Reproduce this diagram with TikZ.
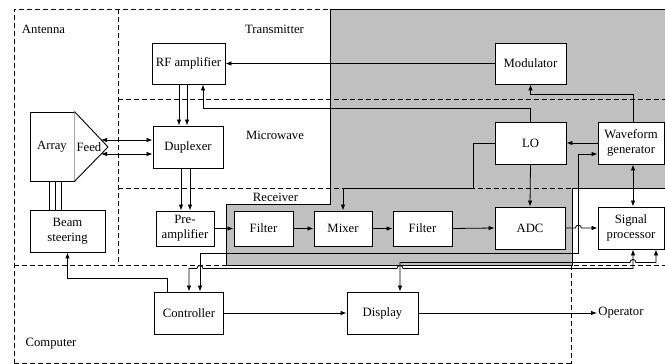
\documentclass[tikz,border=0pt]{standalone}
\usepackage{fontspec}
\setmainfont{Liberation Serif}
\usetikzlibrary{arrows.meta}

\definecolor{rxgray}{RGB}{192,192,192}

\begin{document}
\begin{tikzpicture}[
      x=1pt, y=-1pt,%
      line width=.8pt,%
      font=\fontsize{12.7}{15}\selectfont,%
      block/.style={draw, fill=white, line width=.9pt, minimum width=71pt, minimum height=42pt, inner sep=1pt, align=center},%
      small block/.style={block, minimum width=58pt, minimum height=35pt},%
      zone/.style={dash pattern=on 5pt off 3pt},%
      zonetext/.style={inner sep=0pt},%
      flow/.style={-{Latex[length=6pt,width=4.5pt]}},%
      twoway/.style={{Latex[length=6pt,width=4.5pt]}-{Latex[length=6pt,width=4.5pt]}}%
    ]
    \useasboundingbox (0,0) rectangle (665,364);

    %% Shaded digital part
    \draw[fill=rxgray] (330,9) -- (665,9) -- (665,188) -- (572,188) -- (572,265)
                    -- (226,265) -- (226,204) -- (330,204) -- cycle;

    %% Dashed subsystem borders
    \draw[zone] (14,364) -- (14,9) -- (330,9);
    \draw[zone] (118,9) -- (118,265);
    \draw[zone] (118,99) -- (665,99);
    \draw[zone] (118,188) -- (665,188);
    \draw[zone] (14,265) -- (665,265);
    \draw[zone] (571,265) -- (571,364);
    \draw[zone] (14,363) -- (571,363);

    \node[zonetext] (antennatxt) at (43.5,29) {Antenna};
    \node[zonetext] (transtxt) at (274.5,29) {Transmitter};
    \node[zonetext] (microtxt) at (275,135) {Microwave};
    \node[zonetext] (rxtxt) at (275.5,197) {Receiver};
    \node[zonetext] (comptxt) at (51,344) {Computer};

    %% Blocks
    \node[block, minimum width=73pt, minimum height=41pt] (rfamp) at (188.5,63.5) {RF amplifier};
    \node[block, minimum height=41pt] (modulator) at (530.5,63.5) {Modulator};
    \node[block, minimum width=70pt] (duplexer) at (188,147) {Duplexer};
    \node[block, minimum width=44pt, minimum height=69pt] (array) at (52,146.5) {Array};
    \coordinate (feedtip) at (108,147);
    \draw[line width=.9pt, fill=white] (array.north east) -- (feedtip) -- (array.south east);
    \node (feed) at (89,147) {Feed};
    \coordinate (feedup) at (101,140);
    \coordinate (feeddn) at (101,154);
    \node[block, minimum width=75pt] (beam) at (67.5,231) {Beam\\steering};
    \node[small block] (preamp) at (185,228.5) {Pre-\\amplifier};
    \node[small block, minimum width=59pt] (filtera) at (263.5,228.5) {Filter};
    \node[small block] (mixer) at (343,228.5) {Mixer};
    \node[small block, minimum width=59pt] (filterb) at (422.5,228.5) {Filter};
    \node[block, minimum width=70pt] (adc) at (530,228) {ADC};
    \node[block, minimum width=66pt] (sigproc) at (631,228) {Signal\\processor};
    \node[block] (lo) at (530.5,143) {LO};
    \node[block, minimum width=66pt] (wavegen) at (631,143) {Waveform\\generator};
    \node[block, minimum width=69pt] (controller) at (189,313) {Controller};
    \node[block] (display) at (382.5,313) {Display};
    \node[anchor=west, inner sep=1pt] (operator) at (597,313) {Operator};

    %% Transmit side
    \draw[flow] (modulator.west) -- (rfamp.east);
    \draw[flow] ([xshift=-9.5pt]rfamp.south) -- ([xshift=-9.5pt]rfamp.south |- duplexer.north);
    \draw[flow] ([xshift=-1.5pt]rfamp.south) -- ([xshift=-1.5pt]rfamp.south |- duplexer.north);
    \draw[flow] ([xshift=-7pt]duplexer.south) -- ([xshift=-7pt]duplexer.south |- preamp.north);
    \draw[flow] ([xshift=2pt]duplexer.south) -- ([xshift=2pt]duplexer.south |- preamp.north);
    \draw[twoway] (feedup) -- (feedup -| duplexer.west);
    \draw[twoway] (feeddn) -- (feeddn -| duplexer.west);
    \foreach \dx in {-3,3,9}
      \draw ([xshift=\dx pt]array.south) -- ([xshift=\dx pt]array.south |- beam.north);
    \draw[flow] (lo.north) -- ++(0,-13) -| ([xshift=14.5pt]rfamp.south);
    \draw[flow] ([xshift=2pt]wavegen.north) -- ++(0,-27) -| (modulator.south);
    \draw[flow] (wavegen.west) -- (lo.east);
    \draw[flow] (lo.west) -- ++(-21,0) -- ++(0,45) -| (mixer.north);
    \draw[flow] (lo.south) -- (adc.north);
    \draw[twoway] ([xshift=2pt]wavegen.south) -- ([xshift=2pt]sigproc.north);

    %% Receive chain
    \draw[flow] (preamp.east) -- (filtera.west);
    \draw[flow] (filtera.east) -- (mixer.west);
    \draw[flow] (mixer.east) -- (filterb.west);
    \draw[flow] (filterb.east) -- (adc.west);
    \draw[flow] (adc.east) -- ++(10,0) arc[start angle=180, end angle=0, radius=3pt] -- (sigproc.west);

    %% Computer links
    \draw[flow] ([xshift=-22pt]controller.north) -- ++(0,-13) -| (beam.south);
    \draw[flow] (controller.east) -- (display.west);
    \draw[flow] (display.east) -- (operator.west);
    \draw[twoway] ([xshift=11pt]controller.north) -- ++(0,-38) -- ++(378,0) |- ([yshift=-11pt]wavegen.west);
    \draw[twoway] ([xshift=2pt]sigproc.south) -- ++(0,19) -- ++(-230,0)
          arc[start angle=0, end angle=180, radius=3pt] -- ++(-194,0)
          arc[start angle=0, end angle=180, radius=3pt] -| (controller.north);
    \draw[twoway] ([xshift=25pt]sigproc.south) -- ++(0,13) -- ++(-20,0)
          arc[start angle=0, end angle=180, radius=3pt] -- ++(-230,0) -| ([xshift=17.5pt]display.north);
  \end{tikzpicture}
\end{document}
